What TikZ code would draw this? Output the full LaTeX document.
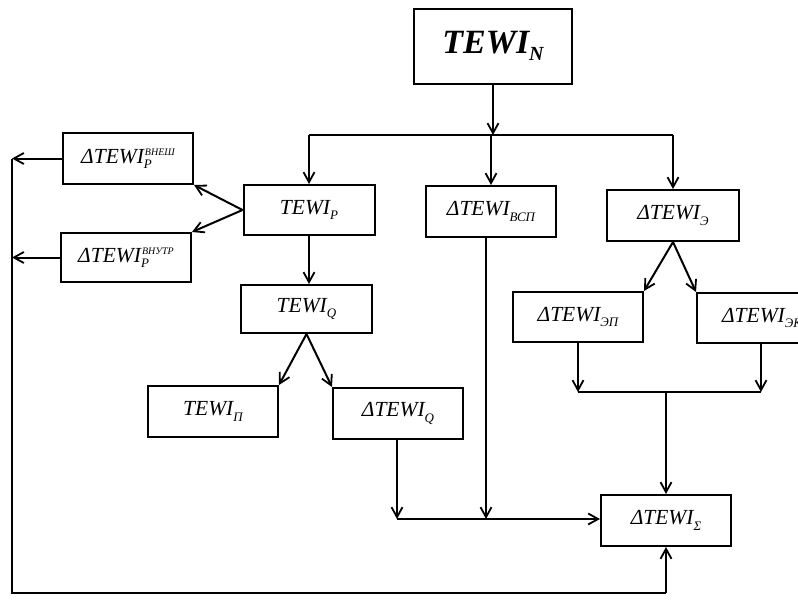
\documentclass[tikz,border=0pt]{standalone}
\usepackage{fontspec}
\setmainfont{Liberation Serif}
\usetikzlibrary{arrows.meta}
\newcommand{\lsub}[1]{\raisebox{-0.55ex}{\fontsize{13}{13}\selectfont\itshape #1}}
\newcommand{\lsup}[1]{\raisebox{0.8ex}{\fontsize{10}{10}\selectfont\itshape #1}}
\newcommand{\lsubsup}[2]{\makebox[0pt][l]{\lsub{#1}}\hspace{1pt}\lsup{#2}}
\begin{document}
\begin{tikzpicture}[x=1pt,y=-1pt,
  box/.style={draw,line width=2pt,inner sep=0pt,font=\fontsize{21.5}{21.5}\selectfont\itshape},
  con/.style={line width=2pt},
  arr/.style={con,-{Straight Barb[length=10pt,width=11pt,line width=1.8pt]}}]
\clip (0,0) rectangle (798,600);
\node[box,minimum width=158pt,minimum height=75pt,font=\fontsize{34}{34}\selectfont\bfseries\itshape] (N) at (493,46) {TEWI\raisebox{-0.45ex}{\fontsize{20}{20}\selectfont N}};
\node[box,minimum width=131pt,minimum height=50pt] (P) at (309,210) {TEWI\lsub{Р}};
\node[box,minimum width=130pt,minimum height=51pt] (VSP) at (491,211.5) {ΔTEWI\lsub{ВСП}};
\node[box,minimum width=132pt,minimum height=51pt] (E) at (673,215.5) {ΔTEWI\lsub{Э}};
\node[box,minimum width=130pt,minimum height=50pt] (EP) at (578,317) {ΔTEWI\lsub{ЭП}};
\node[box,minimum width=130pt,minimum height=50pt] (EK) at (762,318) {ΔTEWI\lsub{ЭК}};
\node[box,minimum width=130pt,minimum height=51pt] (VNE) at (128,158.5) {ΔTEWI\lsubsup{Р}{ВНЕШ}};
\node[box,minimum width=130pt,minimum height=49pt] (VNU) at (126,257.5) {ΔTEWI\lsubsup{Р}{ВНУТР}};
\node[box,minimum width=131pt,minimum height=48pt] (Q) at (306.5,309) {TEWI\lsub{Q}};
\node[box,minimum width=130pt,minimum height=51pt] (PI) at (213,411.5) {TEWI\lsub{П}};
\node[box,minimum width=130pt,minimum height=51pt] (DQ) at (398,413.5) {ΔTEWI\lsub{Q}};
\node[box,minimum width=130pt,minimum height=51pt] (S) at (666,520.5) {ΔTEWI\lsub{Σ}};
% top bus
\coordinate (bl) at (309,135);
\coordinate (bm) at (491,135);
\coordinate (br) at (673,135);
\draw[arr] (N.south) -- (N.south |- bm);
\draw[con] (bl) -- (br);
\draw[arr] (bl) -- (P.north);
\draw[arr] (bm) -- (VSP.north);
\draw[arr] (br) -- (E.north);
% left branch
\draw[arr] (P.west) -- (VNE.south east);
\draw[arr] (P.west) -- (VNU.north east);
\draw[arr] (P.south) -- (P.south |- Q.north);
\draw[arr] (Q.south) -- (PI.north east);
\draw[arr] (Q.south) -- (DQ.north west);
% right branch
\draw[arr] (E.south) -- (EP.north east);
\draw[arr] (E.south) -- (EK.north west);
\coordinate (ej) at (666,392);
\coordinate (el) at (EP.south |- ej);
\coordinate (er) at ([xshift=-1pt]EK.south |- ej);
\draw[arr] (EP.south) -- (el);
\draw[arr] ([xshift=-1pt]EK.south) -- (er);
\draw[con] (el) -- (er);
\draw[arr] (ej) -- (S.north);
% lower inputs to sum
\coordinate (sj) at (397,519);
\coordinate (vj) at (486,519);
\draw[arr] ([xshift=-1pt]DQ.south) -- (sj);
\draw[arr] ([xshift=-5pt]VSP.south) -- (vj);
\draw[arr] (sj) -- (S.west |- sj);
% left feedback
\coordinate (lt) at (12,158.5);
\coordinate (lm) at (12,257.5);
\coordinate (lb) at (12,593);
\draw[arr] (VNE.west) -- (lt);
\draw[arr] (VNU.west) -- (lm);
\draw[con] (lt) -- (lb) -- (S.south |- lb);
\draw[arr] (S.south |- lb) -- (S.south);
\end{tikzpicture}
\end{document}
